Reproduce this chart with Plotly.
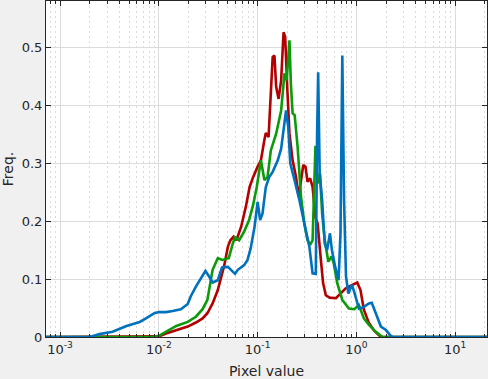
import plotly.graph_objects as go
import numpy as np

# ---- data ----
red_x = [0.0005, 0.0095, 0.01, 0.0118, 0.015, 0.0196, 0.0237, 0.0277, 0.031, 0.035, 0.0395, 0.0427,
         0.046, 0.05, 0.053, 0.057, 0.061, 0.068, 0.076, 0.083, 0.090, 0.1, 0.108, 0.117, 0.121,
         0.129, 0.136, 0.142, 0.148, 0.154, 0.163, 0.173, 0.183, 0.19, 0.2, 0.21, 0.226, 0.245,
         0.26, 0.275, 0.29, 0.305, 0.32, 0.34, 0.36, 0.385, 0.405, 0.437, 0.46, 0.49, 0.537, 0.62,
         0.69, 0.78, 0.91, 1.02, 1.1, 1.19, 1.34, 1.5, 1.69, 1.8, 30]
red_y = [0, 0, 0.001, 0.006, 0.012, 0.018, 0.025, 0.032, 0.041, 0.058, 0.081, 0.101,
         0.124, 0.156, 0.167, 0.173, 0.167, 0.190, 0.225, 0.259, 0.276, 0.294, 0.305, 0.340, 0.352,
         0.345, 0.420, 0.483, 0.486, 0.432, 0.411, 0.443, 0.526, 0.518, 0.426, 0.351, 0.305, 0.276,
         0.242, 0.271, 0.297, 0.294, 0.268, 0.274, 0.259, 0.206, 0.196, 0.133, 0.093, 0.072, 0.068, 0.067,
         0.075, 0.084, 0.090, 0.094, 0.081, 0.047, 0.024, 0.012, 0.003, 0, 0]

green_x = [0.0005, 0.0085, 0.01, 0.0118, 0.015, 0.0196, 0.0237, 0.0277, 0.031, 0.035, 0.0395, 0.044,
           0.051, 0.056, 0.059, 0.065, 0.073, 0.082, 0.09, 0.098, 0.108, 0.117, 0.126, 0.136, 0.154,
           0.173, 0.187, 0.197, 0.21, 0.217, 0.226, 0.237, 0.254, 0.275, 0.297, 0.32, 0.34, 0.36,
           0.385, 0.405, 0.428, 0.45, 0.478, 0.52, 0.56, 0.59, 0.64, 0.72, 0.84, 0.95, 1.06, 1.19,
           1.34, 1.57, 1.84, 30]
green_y = [0, 0, 0.002, 0.009, 0.019, 0.026, 0.035, 0.048, 0.064, 0.116, 0.136, 0.133,
           0.136, 0.161, 0.172, 0.167, 0.182, 0.202, 0.228, 0.259, 0.305, 0.271, 0.276, 0.322, 0.351,
           0.391, 0.455, 0.443, 0.512, 0.437, 0.386, 0.383, 0.328, 0.242, 0.196, 0.167, 0.159, 0.167,
           0.330, 0.265, 0.282, 0.213, 0.167, 0.130, 0.139, 0.127, 0.093, 0.064, 0.049, 0.048, 0.055, 0.032,
           0.021, 0.009, 0, 0]

blue_x = [0.0005, 0.002, 0.0025, 0.0034, 0.0047, 0.0064, 0.0074, 0.009, 0.01, 0.0118, 0.0138, 0.0167,
          0.0196, 0.021, 0.0237, 0.0267, 0.0296, 0.0324, 0.035, 0.0395, 0.0436, 0.05, 0.054, 0.059,
          0.063, 0.073, 0.079, 0.085, 0.093, 0.1, 0.106, 0.112, 0.121, 0.131, 0.142, 0.16, 0.173,
          0.184, 0.194, 0.204, 0.214, 0.236, 0.265, 0.297, 0.334, 0.36, 0.388, 0.40, 0.41, 0.425,
          0.45, 0.478, 0.505, 0.54, 0.565, 0.61, 0.66, 0.69, 0.72, 0.75, 0.785, 0.83, 0.9, 0.95,
          1.06, 1.19, 1.34, 1.43, 1.57, 1.77, 1.99, 2.2, 2.33, 30]
blue_y = [0, 0, 0.005, 0.009, 0.019, 0.026, 0.032, 0.041, 0.043, 0.043, 0.045, 0.048,
          0.057, 0.070, 0.087, 0.101, 0.114, 0.104, 0.094, 0.098, 0.120, 0.121, 0.116, 0.109,
          0.116, 0.124, 0.133, 0.153, 0.190, 0.233, 0.202, 0.213, 0.259, 0.276, 0.285, 0.305, 0.325,
          0.363, 0.391, 0.363, 0.300, 0.271, 0.236, 0.196, 0.156, 0.110, 0.109, 0.351, 0.457, 0.282,
          0.236, 0.161, 0.150, 0.179, 0.150, 0.121, 0.098, 0.179, 0.486, 0.236, 0.104, 0.075, 0.090, 0.078,
          0.049, 0.052, 0.058, 0.059, 0.041, 0.018, 0.012, 0.003, 0, 0]

x_tick_vals = [0.001, 0.01, 0.1, 1, 10]
x_tick_text = ["10<sup>-3</sup>", "10<sup>-2</sup>", "10<sup>-1</sup>", "10<sup>0</sup>", "10<sup>1</sup>"]
y_tick_vals = [0, 0.1, 0.2, 0.3, 0.4, 0.5]
y_tick_text = ["0", "0.1", "0.2", "0.3", "0.4", "0.5"]

minor_vals = [k * 10.0 ** e for e in range(-4, 2) for k in range(2, 10)]

FONT = "DejaVu Sans"
AX = "#262626"

fig = go.Figure()
for xs, ys, col in [(red_x, red_y, "#b30000"), (green_x, green_y, "#0a9a0a"), (blue_x, blue_y, "#0072bd")]:
    fig.add_trace(go.Scatter(x=xs, y=ys, mode="lines", line=dict(color=col, width=2.6),
                             showlegend=False, hoverinfo="skip"))

fig.update_layout(
    width=488, height=379, autosize=False,
    margin=dict(l=46, r=1, t=1, b=42),
    paper_bgcolor="#f0f0f0", plot_bgcolor="white",
    font=dict(family=FONT, size=13, color=AX),
)
fig.update_xaxes(
    type="log", range=[np.log10(7.2e-4), np.log10(21)], automargin=False,
    tickvals=x_tick_vals, ticktext=x_tick_text,
    showline=True, linecolor=AX, linewidth=1, mirror="ticks",
    ticks="inside", ticklen=5, tickcolor=AX,
    showgrid=True, gridcolor="#dcdcdc", gridwidth=1,
    minor=dict(tickvals=minor_vals, ticks="inside", ticklen=3, tickcolor=AX,
               showgrid=True, gridcolor="#dadada", griddash="2px,3px", gridwidth=1),
    zeroline=False,
    title=dict(text="Pixel value", font=dict(size=14, color=AX), standoff=12),
    tickfont=dict(size=13, color=AX),
)
fig.update_yaxes(
    range=[0, 0.58], tickvals=y_tick_vals, ticktext=y_tick_text, automargin=False,
    showline=True, linecolor=AX, linewidth=1, mirror="ticks",
    ticks="inside", ticklen=5, tickcolor=AX,
    showgrid=True, gridcolor="#dcdcdc", gridwidth=1, zeroline=False,
    title=dict(text="Freq.", font=dict(size=14, color=AX), standoff=8),
    tickfont=dict(size=13, color=AX),
)

fig.write_html("out.html", config={"responsive": False, "displayModeBar": False},
               post_script="document.body.style.margin='0';document.body.style.overflow='hidden';")
